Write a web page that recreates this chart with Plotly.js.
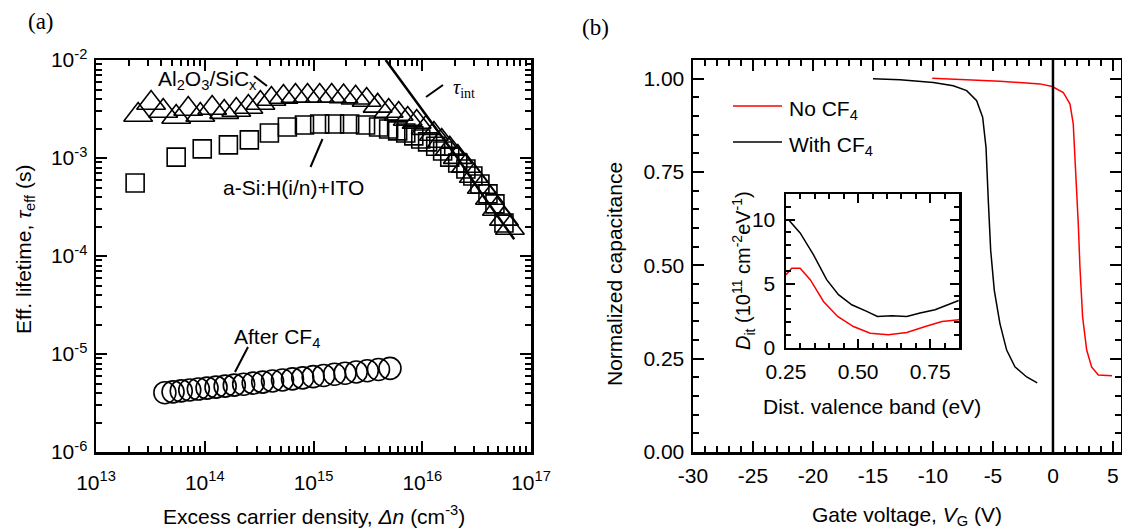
<!DOCTYPE html>
<html>
<head>
<meta charset="utf-8">
<script src="https://cdn.plot.ly/plotly-3.0.1.min.js"></script>
<style>html,body{margin:0;padding:0;background:#fff;}#chart{width:1122px;height:530px;}</style>
</head>
<body>
<div id="chart"></div>
<script>
// ---------- Panel (a): effective lifetime vs excess carrier density ----------
const triX = [2.44e13, 3.21e13, 4.15e13, 5.46e13, 7.05e13, 9.10e13, 1.17e14, 1.51e14, 1.95e14, 2.52e14, 3.25e14, 4.10e14, 5.29e14, 6.83e14, 8.81e14, 1.14e15, 1.47e15, 1.89e15, 2.44e15, 3.08e15, 3.89e15, 4.91e15, 6.07e15, 7.35e15, 8.89e15, 1.08e16, 1.28e16, 1.51e16, 1.79e16, 2.12e16, 2.52e16, 2.98e16, 3.53e16, 4.19e16, 4.86e16, 5.64e16, 6.40e16];
const triY = [2.75e-3, 3.64e-3, 3.02e-3, 2.62e-3, 3.16e-3, 2.75e-3, 3.24e-3, 2.94e-3, 3.09e-3, 3.31e-3, 3.64e-3, 4.00e-3, 4.19e-3, 4.29e-3, 4.29e-3, 4.29e-3, 4.29e-3, 4.24e-3, 4.12e-3, 3.91e-3, 3.40e-3, 3.02e-3, 2.81e-3, 2.50e-3, 2.33e-3, 2.02e-3, 1.76e-3, 1.49e-3, 1.24e-3, 1.02e-3, 8.28e-4, 6.55e-4, 5.06e-4, 3.91e-4, 3.02e-4, 2.39e-4, 1.93e-4];

const sqX = [2.29e13, 5.46e13, 9.48e13, 1.65e14, 2.57e14, 3.93e14, 5.75e14, 8.26e14, 1.14e15, 1.56e15, 2.15e15, 3.01e15, 3.97e15, 4.91e15, 5.94e15, 7.05e15, 8.36e15, 9.69e15, 1.12e16, 1.33e16, 1.54e16, 1.79e16, 2.12e16, 2.52e16, 2.92e16, 3.39e16, 4.02e16, 4.66e16, 5.64e16];
const sqY = [5.56e-4, 1.02e-3, 1.24e-3, 1.36e-3, 1.53e-3, 1.80e-3, 2.07e-3, 2.17e-3, 2.22e-3, 2.22e-3, 2.22e-3, 2.17e-3, 2.07e-3, 1.98e-3, 1.89e-3, 1.80e-3, 1.68e-3, 1.56e-3, 1.46e-3, 1.32e-3, 1.18e-3, 1.02e-3, 8.89e-4, 7.73e-4, 6.55e-4, 5.43e-4, 4.30e-4, 3.40e-4, 2.17e-4];

const circX = [4.30e13, 5.11e13, 6.08e13, 7.28e13, 8.73e13, 1.05e14, 1.27e14, 1.54e14, 1.87e14, 2.28e14, 2.79e14, 3.41e14, 4.20e14, 5.19e14, 6.41e14, 7.96e14, 9.93e14, 1.24e15, 1.56e15, 1.95e15, 2.47e15, 3.12e15, 3.96e15, 5.05e15];
const circY = [4.03e-6, 4.11e-6, 4.20e-6, 4.29e-6, 4.39e-6, 4.49e-6, 4.59e-6, 4.70e-6, 4.81e-6, 4.92e-6, 5.05e-6, 5.17e-6, 5.30e-6, 5.43e-6, 5.57e-6, 5.71e-6, 5.87e-6, 6.04e-6, 6.21e-6, 6.37e-6, 6.56e-6, 6.75e-6, 6.95e-6, 7.14e-6];

const tauX = [4.61e15, 7.94e15, 1.285e16, 2.11e16, 3.47e16, 5.01e16, 7.01e16];
const tauY = [1.0e-2, 4.37e-3, 2.09e-3, 1.0e-3, 4.42e-4, 2.51e-4, 1.48e-4];

const aXTickVals = [1e13, 1e14, 1e15, 1e16, 1e17];
const aXTickText = ['10<sup>13</sup>', '10<sup>14</sup>', '10<sup>15</sup>', '10<sup>16</sup>', '10<sup>17</sup>'];
const aYTickVals = [1e-6, 1e-5, 1e-4, 1e-3, 1e-2];
const aYTickText = ['10<sup>-6</sup>', '10<sup>-5</sup>', '10<sup>-4</sup>', '10<sup>-3</sup>', '10<sup>-2</sup>'];

// ---------- Panel (b): normalized C-V ----------
const noCfV = [-10.06, -4.42, -1.08, -0.06, 0.86, 1.42, 1.69, 1.89, 2.11, 2.25, 2.47, 2.81, 3.22, 3.78, 4.92];
const noCfC = [1.001, 0.993, 0.986, 0.979, 0.963, 0.932, 0.879, 0.763, 0.611, 0.495, 0.362, 0.273, 0.228, 0.206, 0.204];
const withCfV = [-15.0, -12.75, -9.97, -8.31, -7.19, -6.36, -5.86, -5.58, -5.39, -5.19, -4.89, -4.42, -3.86, -3.17, -2.19, -1.31];
const withCfC = [1.000, 0.997, 0.990, 0.981, 0.968, 0.941, 0.897, 0.816, 0.674, 0.540, 0.433, 0.344, 0.273, 0.228, 0.201, 0.185];
const zeroV = [0, 0];
const zeroC = [0, 1.05];

const bXTickVals = [-30, -25, -20, -15, -10, -5, 0, 5];
const bXTickText = ['-30', '-25', '-20', '-15', '-10', '-5', '0', '5'];

// ---------- Inset: Dit vs distance from valence band ----------
const ditWithE = [0.258, 0.299, 0.345, 0.391, 0.432, 0.478, 0.530, 0.567, 0.617, 0.669, 0.715, 0.767, 0.849];
const ditWith  = [10.0, 8.96, 7.26, 5.30, 4.13, 3.34, 2.82, 2.43, 2.48, 2.43, 2.69, 2.95, 3.68];
const ditNoE = [0.250, 0.270, 0.299, 0.334, 0.380, 0.429, 0.484, 0.542, 0.605, 0.669, 0.733, 0.791, 0.850];
const ditNo  = [5.69, 6.20, 6.20, 5.30, 3.60, 2.43, 1.64, 1.12, 0.99, 1.17, 1.64, 2.04, 2.17];

// ---------- layout helpers ----------
const W = 1122, H = 530;
const px = v => v / W;
const py = v => 1 - v / H;
const FONT = 'Liberation Sans, Arial, sans-serif';
const SERIF = 'Liberation Serif, Times New Roman, serif';
const FS = 21;

function logMinor(d0, d1) {
  const out = [];
  for (let d = d0; d < d1; d++) for (let k = 2; k <= 9; k++) out.push(k * Math.pow(10, d));
  return out;
}

const axBase = {
  showline: true, linecolor: '#000', linewidth: 2.5, mirror: 'ticks',
  ticks: 'inside', ticklen: 11, tickwidth: 2, tickcolor: '#000',
  showgrid: false, zeroline: false,
  tickfont: {family: FONT, size: FS, color: '#000'}
};
function minorOf(extra) {
  return Object.assign({ticks: 'inside', ticklen: 6, tickwidth: 2, tickcolor: '#000', showgrid: false}, extra);
}

const mk = (sym, size) => ({symbol: sym, size: size, color: '#000', line: {width: 1.6, color: '#000'}});

const traces = [
  {x: sqX, y: sqY, type: 'scatter', mode: 'markers', xaxis: 'x', yaxis: 'y', marker: mk('square-open', 18), cliponaxis: false},
  {x: triX, y: triY, type: 'scatter', mode: 'markers', xaxis: 'x', yaxis: 'y', marker: mk('triangle-up-open', 25), cliponaxis: false},
  {x: circX, y: circY, type: 'scatter', mode: 'markers', xaxis: 'x', yaxis: 'y', marker: mk('circle-open', 22), cliponaxis: false},
  {x: tauX, y: tauY, type: 'scatter', mode: 'lines', xaxis: 'x', yaxis: 'y', line: {color: '#000', width: 2.5}},
  {x: noCfV, y: noCfC, type: 'scatter', mode: 'lines', xaxis: 'x2', yaxis: 'y2', line: {color: '#ff0000', width: 1.5}},
  {x: withCfV, y: withCfC, type: 'scatter', mode: 'lines', xaxis: 'x2', yaxis: 'y2', line: {color: '#000', width: 1.5}},
  {x: zeroV, y: zeroC, type: 'scatter', mode: 'lines', xaxis: 'x2', yaxis: 'y2', line: {color: '#000', width: 2.5}},
  {x: ditWithE, y: ditWith, type: 'scatter', mode: 'lines', xaxis: 'x3', yaxis: 'y3', line: {color: '#000', width: 1.5}},
  {x: ditNoE, y: ditNo, type: 'scatter', mode: 'lines', xaxis: 'x3', yaxis: 'y3', line: {color: '#ff0000', width: 1.5}}
];

const ann = (text, x, y, opts) => Object.assign({
  text: text, x: px(x), y: py(y), xref: 'paper', yref: 'paper', showarrow: false,
  xanchor: 'center', yanchor: 'middle', font: {family: FONT, size: FS, color: '#000'}
}, opts || {});
const seg = (x0, y0, x1, y1, color, w) => ({
  type: 'line', xref: 'paper', yref: 'paper', x0: px(x0), y0: py(y0), x1: px(x1), y1: py(y1),
  line: {color: color || '#000', width: w || 2}
});

const layout = {
  width: W, height: H, margin: {l: 0, r: 0, t: 0, b: 0},
  paper_bgcolor: '#fff', plot_bgcolor: 'rgba(0,0,0,0)', showlegend: false,
  font: {family: FONT, size: FS, color: '#000'},
  xaxis: Object.assign({}, axBase, {
    type: 'log', domain: [px(96), px(531)], range: [13, 17], anchor: 'y',
    tickmode: 'array', tickvals: aXTickVals, ticktext: aXTickText, ticklabelstandoff: 10,
    minor: minorOf({tickmode: 'array', tickvals: logMinor(13, 17)})
  }),
  yaxis: Object.assign({}, axBase, {
    type: 'log', domain: [py(452), py(60)], range: [-6, -2], anchor: 'x',
    tickmode: 'array', tickvals: aYTickVals, ticktext: aYTickText, ticklabelstandoff: 2,
    minor: minorOf({tickmode: 'array', tickvals: logMinor(-6, -2)})
  }),
  xaxis2: Object.assign({}, axBase, {
    domain: [px(693), px(1121)], range: [-30, 5.67], anchor: 'y2',
    tickmode: 'array', tickvals: bXTickVals, ticktext: bXTickText, ticklabelstandoff: 3,
    minor: minorOf({tickmode: 'linear', tick0: 0, dtick: 1})
  }),
  yaxis2: Object.assign({}, axBase, {
    domain: [py(452), py(60)], range: [0, 1.05], anchor: 'x2',
    tick0: 0, dtick: 0.25, tickformat: '.2f', ticklabelstandoff: 2,
    minor: minorOf({tick0: 0, dtick: 0.05})
  }),
  xaxis3: Object.assign({}, axBase, {
    domain: [px(786), px(959)], range: [0.25, 0.85], anchor: 'y3',
    tick0: 0.25, dtick: 0.25, tickformat: '.2f', ticklen: 9, ticklabelstandoff: 4,
    minor: minorOf({tick0: 0.25, dtick: 0.05, ticklen: 5})
  }),
  yaxis3: Object.assign({}, axBase, {
    domain: [py(347.5), py(194)], range: [0, 12], anchor: 'x3',
    tick0: 0, dtick: 5, ticklen: 9, ticklabelstandoff: 4,
    minor: minorOf({tick0: 0, dtick: 1, ticklen: 5})
  }),
  annotations: [
    ann('(a)', 41, 22, {font: {family: SERIF, size: 23, color: '#000'}}),
    ann('(b)', 595, 28, {font: {family: SERIF, size: 23, color: '#000'}}),
    ann('Al<sub>2</sub>O<sub>3</sub>/SiC<sub>x</sub>', 207.5, 80),
    ann('<i>τ</i><sub>int</sub>', 464, 89, {font: {family: SERIF, size: 20, color: '#000'}}),
    ann('a-Si:H(i/n)+ITO', 293.5, 188),
    ann('After CF<sub>4</sub>', 276.5, 338),
    ann('Excess carrier density, <i>Δn</i> (cm<sup>-3</sup>)', 313.5, 515),
    ann('Eff. lifetime, <i>τ</i><sub>eff</sub> (s)', 25, 250, {textangle: -90}),
    ann('Gate voltage, <i>V</i><sub>G</sub> (V)', 907, 516),
    ann('Normalized capacitance', 614, 274, {textangle: -90}),
    ann('Dist. valence band (eV)', 872, 406),
    ann('<i>D</i><sub>it</sub> (10<sup>11</sup> cm<sup>-2</sup>eV<sup>-1</sup>)', 743, 271, {textangle: -90, font: {family: FONT, size: 20, color: '#000'}}),
    ann('No CF<sub>4</sub>', 787, 110, {xanchor: 'left'}),
    ann('With CF<sub>4</sub>', 787, 146, {xanchor: 'left'})
  ],
  shapes: [
    seg(254, 76, 267, 86),
    seg(426, 97, 443, 85),
    seg(310.5, 167, 322.5, 139),
    seg(235, 372, 248, 347),
    seg(733, 106, 782, 106, '#ff0000', 1.5),
    seg(733, 142, 782, 142, '#000', 1.5)
  ]
};

Plotly.newPlot('chart', traces, layout, {staticPlot: true, displayModeBar: false});
</script>
</body>
</html>
